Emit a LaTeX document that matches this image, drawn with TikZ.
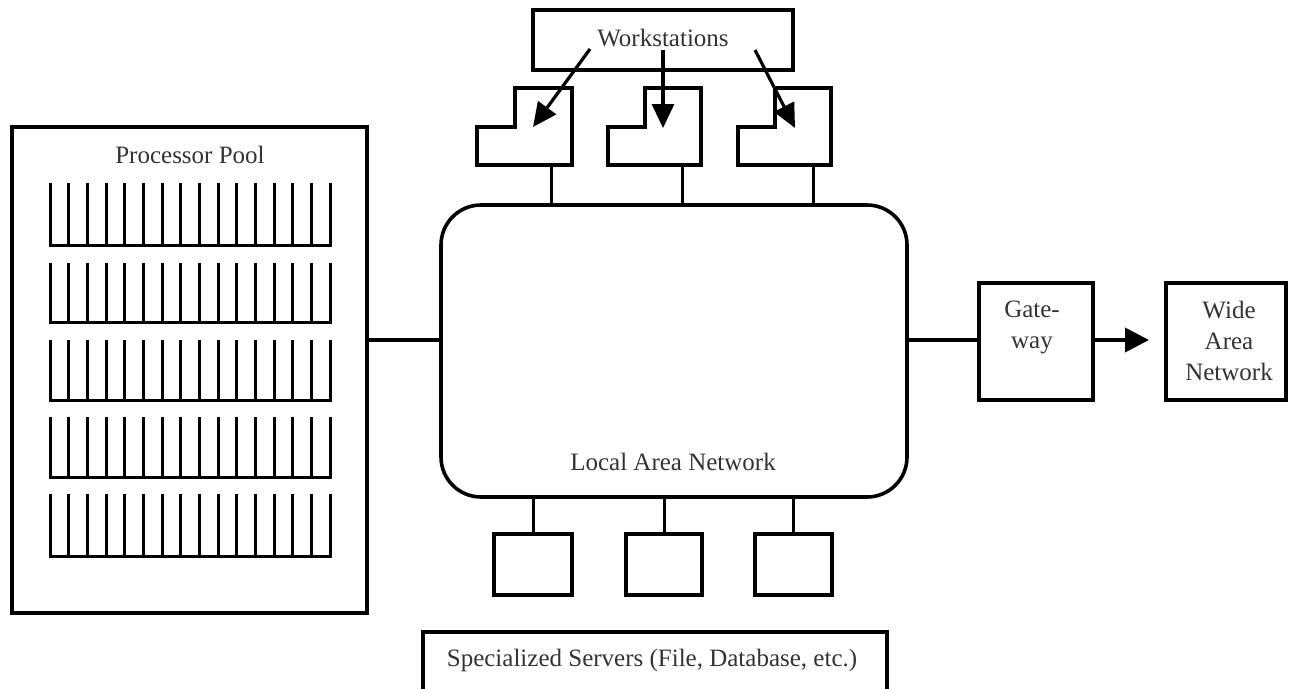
\documentclass[tikz,border=0pt]{standalone}
\usepackage{fontspec}
\setmainfont{Liberation Serif}
\usetikzlibrary{arrows.meta,calc}
\begin{document}
\begin{tikzpicture}[x=1pt,y=-1pt,
  box/.style={draw,line width=3.4pt,inner sep=0pt,outer sep=0pt},
  txt/.style={text=black!80,font=\fontsize{25}{31}\selectfont,align=center,inner sep=0pt},
  wire/.style={line width=3pt},
  thick wire/.style={line width=3.6pt},
  combline/.style={line width=3pt},
  bigarrow/.style={line width=3.2pt,-{Triangle[length=24pt,width=22pt]}},
]
\useasboundingbox (0,0) rectangle (1289,688);
\clip (0,0) rectangle (1289,688);

% Processor pool
\node[box,line width=3.8pt,minimum width=355pt,minimum height=486pt] (pool) at (189.5,370) {};
\node[txt] (pooltxt) at (190,155) {Processor Pool};
\foreach \top/\base in {183/245,263/322,340/400,417/477,494/556}{
  \draw[combline] (50,\top) -- (50,\base) -- (330,\base) -- (330,\top);
  \foreach \i in {1,...,14}{
    \draw[combline] (50+\i*18.667,\top) -- (50+\i*18.667,\base);
  }
}

% LAN
\node[draw,line width=3.6pt,rounded corners=40pt,minimum width=466pt,minimum height=292pt,inner sep=0pt] (lan) at (674,351) {};
\node[txt] (lantxt) at (673,462) {Local Area Network};

% pool to LAN
\draw[thick wire] (pool.east |- 0,340) -- (lan.west |- 0,340);

% Workstations label box
\node[box,minimum width=260pt,minimum height=60pt] (wsbox) at (663,40) {};
\node[txt] (wstxt) at (663,38) {Workstations};

% Workstation shapes
\foreach \n/\a/\b/\c/\m in {1/477/515/572/551,2/608/645/701/682,3/738/775/831/813}{
  \draw[line width=3.2pt] (\b,88) -- (\c,88) -- (\c,165) -- (\a,165) -- (\a,127) -- (\b,127) -- cycle;
  \node[inner sep=0pt,minimum width={\c-\a},minimum height=77pt] (ws\n) at ({(\a+\c)/2},126.5) {};
  \draw[wire] (ws\n.south -| \m,0) -- (lan.north -| \m,0);
}

% arrows from Workstations
\coordinate (s1) at (590,49);
\coordinate (s2) at (663,50);
\coordinate (s3) at (755,50);
\coordinate (t1) at (533,127);
\coordinate (t2) at (663,128);
\coordinate (t3) at (795,128);
\draw[bigarrow] (s1) -- (t1);
\draw[bigarrow] (s2) -- (t2);
\draw[bigarrow] (s3) -- (t3);

% Gateway and WAN
\node[box,minimum width=114pt,minimum height=117pt] (gw) at (1036,341.5) {};
\node[txt] (gwtxt) at (1032,327) {Gate-\\way};
\node[box,minimum width=120pt,minimum height=117pt] (wan) at (1226,341.5) {};
\node[txt] (wantxt) at (1229,341) {Wide\\Area\\Network};
\draw[thick wire] (lan.east |- 0,340) -- (gw.west |- 0,340);
\coordinate (wanin) at (1149,340);
\draw[line width=3.8pt,-{Triangle[length=24pt,width=24pt]}] (gw.east |- 0,340) -- (wanin);

% Servers
\foreach \n/\x/\w in {1/533/78,2/664/76,3/793.5/77}{
  \node[box,minimum width=\w pt,minimum height=61pt] (srv\n) at (\x,564.5) {};
  \draw[wire] (lan.south -| \x,0) -- (srv\n.north);
}

% Specialized servers
\node[box,minimum width=464pt,minimum height=60pt] (spec) at (655,662) {};
\node[txt] (spectxt) at (652,660) {Specialized Servers (File, Database, etc.)};
\end{tikzpicture}
\end{document}
